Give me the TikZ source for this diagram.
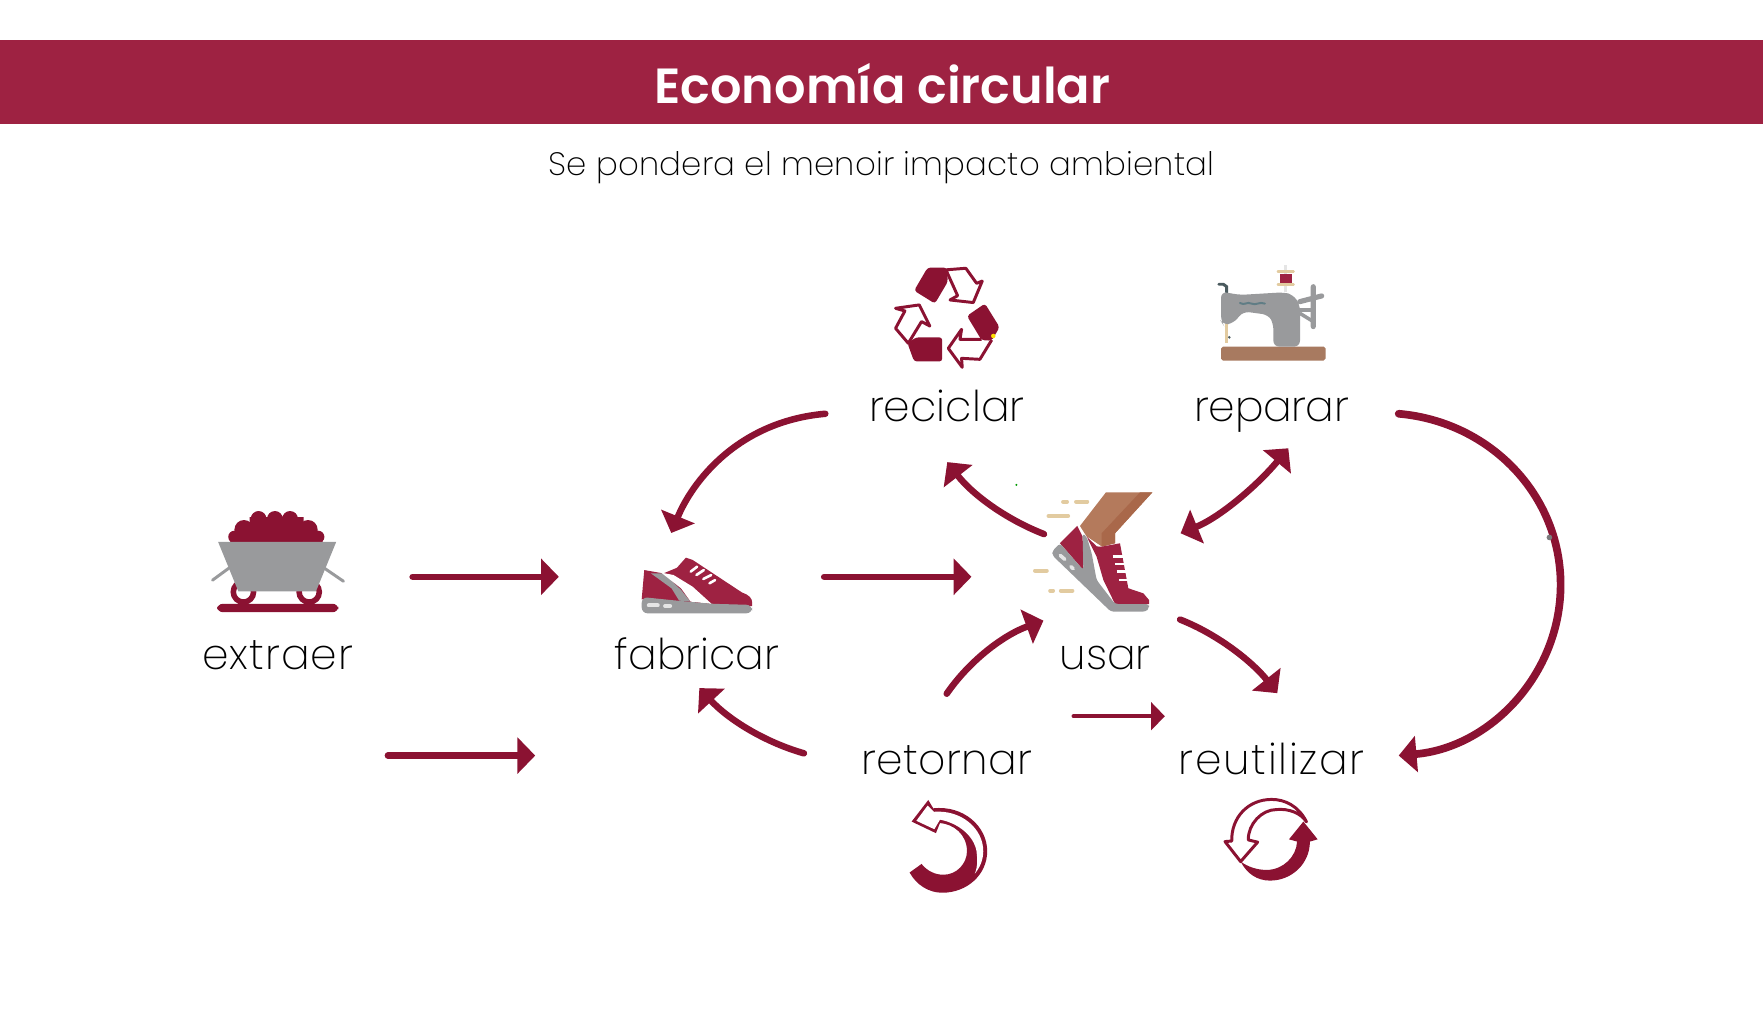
\documentclass[tikz,border=0pt]{standalone}
\usepackage{fontspec}
\usepackage{xcolor}
\usetikzlibrary{arrows.meta}
\setmainfont{Poppins}
\newfontfamily\lightfont{Poppins ExtraLight}
\newfontfamily\titlefont{Poppins SemiBold}
\definecolor{vino}{HTML}{8B1232}
\definecolor{banda}{HTML}{9E2242}
\definecolor{gris}{HTML}{999A9C}
\definecolor{piel}{HTML}{B47A5C}
\definecolor{pielosc}{HTML}{A9684A}
\definecolor{madera}{HTML}{A87A60}
\definecolor{hilo}{HTML}{E2CBA0}
\definecolor{acero}{HTML}{4A5A5E}
\definecolor{puntada}{HTML}{607D85}
\tikzset{
    flecha/.style={
        draw=vino,
        line width=3.3pt,
        line cap=round,
        -{Triangle[length=9pt,width=18pt]},
    },
    flechachica/.style={
        flecha,
        line width=2.3pt,
        -{Triangle[length=7pt,width=14pt]},
    },
    etiqueta/.style={
        anchor=base,
        inner sep=0pt,
        font=\lightfont\fontsize{21.5}{26}\selectfont\addfontfeature{LetterSpace=#1},
        text=black,
    },
    etiqueta/.default=0,
    contorno/.style={
        draw=vino,
        fill=white,
        line width=1.5pt,
        line join=round,
    },
    trazo/.style={line width=2pt, line cap=round},
}
\begin{document}
\begin{tikzpicture}[x=0.02cm,y=-0.02cm]
    \useasboundingbox (0,0) rectangle (1568,910.7);

    % title
    \fill[banda] (0,36) rectangle (1568,110);
    \node[anchor=base, inner sep=0pt, text=white, font=\titlefont\fontsize{25}{30}\selectfont] (titulo) at (784.8,92) {Economía circular};
    \node[anchor=base, inner sep=0pt, text=black, font=\lightfont\fontsize{16.4}{20}\selectfont\addfontfeature{LetterSpace=0.5}] (subtitulo) at (784,156.5) {Se pondera el menoir impacto ambiental};

    % labels
    \node[etiqueta=2.6] (extraer) at (247,595.5) {extraer};
    \node[etiqueta] (fabricar) at (620,595.5) {fabricar};
    \node[etiqueta] (usar) at (983,595.5) {usar};
    \node[etiqueta] (reciclar) at (842,374.5) {reciclar};
    \node[etiqueta=-1] (reparar) at (1131,374.5) {reparar};
    \node[etiqueta=1] (retornar) at (842,688.5) {retornar};
    \node[etiqueta=3.8] (reutilizar) at (1131,688.5) {reutilizar};
    \coordinate (entrada) at (345,672);
    \coordinate (salida) at (476,672);

    % straight arrows
    \draw[flecha] ([shift={(120,-82.5)}]extraer.base) -- ([shift={(-123,-82.5)}]fabricar.base);
    \draw[flecha] ([shift={(113,-82.5)}]fabricar.base) -- ([shift={(-119,-82.5)}]usar.base);
    \draw[flecha] (entrada) -- (salida);
    \draw[flechachica] ([shift={(113,-51.5)}]retornar.base) -- ([shift={(-95,-51.5)}]reutilizar.base);

    % curved arrows
    \draw[flecha] ([shift={(-108,-6.5)}]reciclar.base) .. controls (655,375) and (615,430) .. ([shift={(-23,-121.5)}]fabricar.base);
    \draw[flecha] ([shift={(-54.5,-120.5)}]usar.base) .. controls (895,462) and (865,440) .. ([shift={(0.5,36.5)}]reciclar.base);
    \draw[flecha, {Triangle[length=9pt,width=18pt]}-{Triangle[length=9pt,width=18pt]}] ([shift={(67,-121.2)}]usar.base) .. controls (1085,460) and (1118,432) .. ([shift={(14.8,24.2)}]reparar.base);
    \draw[flecha] ([shift={(66.5,-44.5)}]usar.base) .. controls (1085,565) and (1115,590) .. ([shift={(5,-72)}]reutilizar.base);
    \draw[flecha] ([shift={(0,-71.5)}]retornar.base) .. controls (862,588) and (892,565) .. ([shift={(-55,-43.5)}]usar.base);
    \draw[flecha] ([shift={(-127,-18.5)}]retornar.base) .. controls (680,660) and (648,640) .. ([shift={(2,16.5)}]fabricar.base);
    \draw[flecha, line width=3.9pt] ([shift={(113,-6.5)}]reparar.base) .. controls (1325,375) and (1388,440) .. (1388,520) .. controls (1388,600) and (1325,665) .. ([shift={(113,-16.5)}]reutilizar.base);

    % specks
    \fill[green!60!black] (904,431.3) circle (1);
    \fill[gris!80!black] (1378,478) circle (2.5);

    % mine cart
    \draw[gris, trazo, line width=1.5pt] (189,516) -- (204,505);
    \draw[gris, trazo, line width=1.5pt] (305.5,517) -- (288,505);
    \fill[vino] (230,461.5) circle (7) (244.5,461.5) circle (7) (258,461.5) circle (7);
    \fill[vino] (217,471) circle (8.5) (274,471) circle (8.5) (208.5,477.5) circle (5.5) (283,477.5) circle (5.5);
    \fill[vino] (205,483) rectangle (287,474) (222,475) rectangle (270,460);
    \draw[vino, line width=2.8pt] (216.5,526.5) circle (9) (275,526.5) circle (9);
    \fill[gris] (194,482) -- (299,482) -- (281,526) -- (212,526) -- cycle;
    \fill[vino, rounded corners=3] (193,537) rectangle (301,544.5);

    % sneaker
    \fill[banda] (573,507) -- (590,510) -- (602,505) -- (610,496) -- (616,498) -- (660,527) .. controls (666,529) and (669,532) .. (669,536) -- (669,539) -- (620,539) -- (570.7,533) -- cycle;
    \fill[gris] (579,510) -- (590.5,510) -- (606,525) -- (614,535) -- (604,534.2) -- (597.3,523.3) -- cycle;
    \fill[white] (588,509.3) -- (599,511.4) -- (616,521.8) -- (633,537.2) -- (614.3,535.1) -- (605.8,523.3) -- cycle;
    \fill[gris, rounded corners=3] (570.7,531) -- (600,534) -- (633,537) -- (669,538) -- (669,545.5) -- (570.7,545.5) -- cycle;
    \foreach \xa/\ya/\xb/\yb in {614.3/508.4/620/504, 619.4/511.4/626/507, 625.5/515/632.5/511.4, 631/518.8/636/515.9} {
        \draw[white, trazo, line width=1.3pt] (\xa,\ya) -- (\xb,\yb);
    }
    \draw[black!10, trazo] (577,538.5) -- (585,538.5) (591.5,539) -- (596,539);

    % recycle sign
    \fill[vino, rounded corners=1.5] (813,258.5) -- (825,238) -- (842,238) -- (843,250.5) -- (831.5,270) -- cycle;
    \draw[contorno, fill=none] (841.3,240) -- (859,238.6) -- (868.6,252) -- (873.6,250) -- (865.6,269.1) -- (844.9,266.8) -- (851.7,263) -- cycle;
    \fill[vino, rounded corners=1.5] (860,281) -- (876,270) -- (889,291) -- (882,303) -- (873,302.5) -- cycle;
    \draw[contorno, fill=none] (882,302.4) -- (871.5,319.6) -- (855.2,318.7) -- (855.8,326.7) -- (843.4,309.8) -- (855.2,292.9) -- (853.8,301.8) -- (873,301.8);
    \fill[vino, rounded corners=1.5] (815,300) -- (838,300) -- (838,321.5) -- (813,321.5) -- (807,305) -- cycle;
    \draw[contorno, fill=none] (807.8,305.3) -- (796.5,292) -- (804.8,276.6) -- (796.5,274.2) -- (817.6,271.2) -- (827,290) -- (819.6,286) -- cycle;
    \fill[yellow!80!orange] (883.4,298.8) circle (2);

    % sewing machine
    \fill[madera, rounded corners=1] (1086,308.3) rectangle (1179,320.7);
    \draw[black!10, line width=1.6pt] (1143.4,235.6) -- (1143.4,260);
    \fill[banda] (1138.4,243.6) rectangle (1148.8,252);
    \draw[hilo, trazo, line width=1.3pt] (1136.5,241.6) -- (1150.5,241.6) (1136.5,253.1) -- (1150.5,253.1);
    \draw[hilo, line width=1.6pt] (1091,285) -- (1091,305);
    \draw[acero, line width=1.5pt, line cap=round] (1084,252.8) -- (1088,252.8) -- (1091,255) -- (1091,260);
    \fill[acero] (1093.3,300) circle (1.3);
    \draw[gris, line width=2.6pt, line cap=round] (1156,268.3) -- (1175.5,263.2) (1168,255) -- (1168,290.5);
    \draw[gris, line width=1.8pt] (1156,275.7) -- (1168,275.7) (1156,278.6) -- (1168,286);
    \fill[gris, rounded corners=3] (1086,259.4) -- (1102.8,262.3) -- (1141.4,260) -- (1150,262) -- (1156.2,271.2) -- (1156.2,308.3) -- (1132.5,308.3) -- (1132.5,287.5) -- (1128,280) -- (1105.8,277) -- (1096.9,287.5) -- (1088,289) -- (1086,286) -- cycle;
    \draw[puntada, line width=1pt, line cap=round] (1102.8,269.5) .. controls (1107,272) and (1109,268) .. (1113,270) .. controls (1117,272) and (1120,268) .. (1125,270);

    % running foot
    \fill[piel] (960.5,467.8) -- (983.6,437.9) -- (1024.9,437.9) -- (991.7,474.3) -- (991.7,483.2) -- (979.8,486.2) -- (966.5,477.3) -- cycle;
    \fill[pielosc] (1013.9,437.9) -- (1024.9,437.9) -- (991.7,474.3) -- (991.7,483.2) -- (979.8,486.2) -- (979.8,474.3) -- cycle;
    \fill[white] (966.5,477.3) -- (979.8,486.2) -- (991.7,537.2) -- (975.3,515.8) -- cycle;
    \fill[banda] (942.7,483.2) -- (958.1,467.8) -- (962.9,477.3) -- (963.5,507) -- cycle;
    \fill[banda] (966.5,477.3) -- (975.5,486) -- (979.8,486.2) -- (996.1,483.2) -- (1003.5,523.2) -- (1016.9,527.7) -- (1021.9,533.6) -- (1021.9,537.2) -- (991.7,537.2) -- (981.3,515.8) -- (975.3,495) -- cycle;
    \fill[gris, rounded corners=1.5] (942.7,483.2) -- (963.5,507) -- (962.9,474.3) -- (966.5,477.3) -- (970.9,492) -- (975.3,515.8) -- (991.7,537.2) -- (1021.9,537.2) -- (1021.9,541) -- (1019,544) -- (988,544) -- (936,494) -- (936,490) -- cycle;
    \draw[black!10, trazo, line width=1.8pt] (943,494) -- (947,497.5) (952.5,504) -- (954.5,505.8);
    \foreach \xa/\xb/\yy in {989.6/998.5/495, 991.6/999.7/501.6, 993/1001/508.4, 995.2/1002.6/515.8} {
        \draw[white, line width=1.3pt] (\xa,\yy) -- (\xb,\yy);
    }
    \foreach \xa/\xb/\yy in {945.5/949/446.2, 957/967/446.2, 932.5/950/458.9, 920.5/931/507.5, 934/936.6/525.3, 943.5/953.8/525.3} {
        \draw[hilo, trazo] (\xa,\yy) -- (\xb,\yy);
    }

    % return arrow
    \fill[vino, line join=round] (830,718.9) .. controls (857,716) and (878,735) .. (878,757) .. controls (878,778) and (860,794) .. (838,794) .. controls (826,794) and (815,787) .. (809,776) -- (819.6,768.4) .. controls (825,775) and (832,778) .. (839,778) .. controls (851,778) and (860,768) .. (860,757) .. controls (860,742) and (848,733) .. (836,732) -- (832.4,741) -- (810.8,730.7) -- (825.6,711.5) -- cycle;
    \fill[white] (830.5,722) .. controls (855,720) and (874.5,737) .. (874.5,757) .. controls (874.5,764) and (872,771) .. (867,777) .. controls (870,770) and (869,762) .. (868.5,757) .. controls (866,743) and (852,732) .. (836,729) -- (831,737.5) -- (815,730) -- (825,716.5) -- cycle;

    % reuse arrows
    \fill[vino, line join=round] (1159.2,730.7) -- (1171.9,746.5) -- (1165,748.5) .. controls (1165,768) and (1149,783.2) .. (1129.5,783.2) .. controls (1118,783.2) and (1109,777) .. (1103.4,766.3) .. controls (1110,771) and (1118,773.7) .. (1126.5,773.7) .. controls (1141,773.7) and (1153,762) .. (1153.6,748.5) -- (1146.4,746.5) -- cycle;
    \draw[contorno] (1162,731) .. controls (1155,717) and (1143,711) .. (1131,711) .. controls (1110,711) and (1095,727) .. (1095.5,748) -- (1089.5,748.5) -- (1103.4,766.3) -- (1118.5,749) -- (1110.2,747) .. controls (1110,733) and (1122,720) .. (1135.4,720) .. controls (1146,719) and (1157,723) .. (1162,731) -- cycle;
\end{tikzpicture}
\end{document}
